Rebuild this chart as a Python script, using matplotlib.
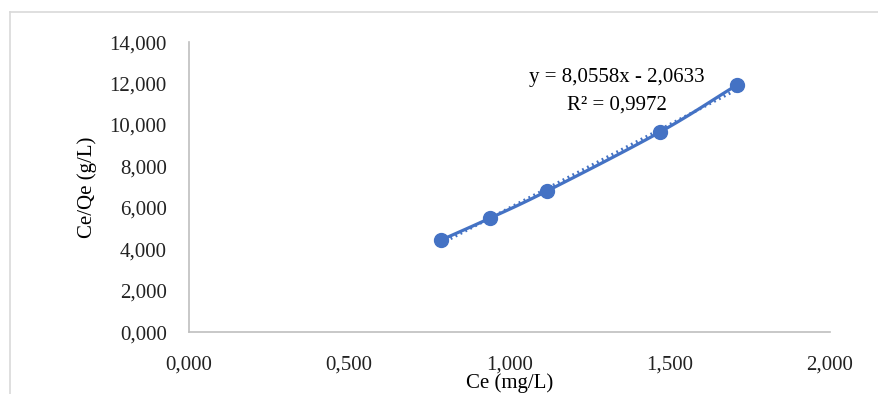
import numpy as np
import matplotlib
matplotlib.use("Agg")
import matplotlib.pyplot as plt
from matplotlib.lines import Line2D
from matplotlib.ticker import FuncFormatter

# data
ce = [0.786, 0.939, 1.117, 1.470, 1.710]        # Ce (mg/L)
ce_qe = [4.44, 5.50, 6.81, 9.66, 11.93]          # Ce/Qe (g/L)
slope, intercept = 8.0558, -2.0633
r2 = 0.9972
x_ticks = [0, 0.5, 1.0, 1.5, 2.0]
y_ticks = [0, 2, 4, 6, 8, 10, 12, 14]

blue = "#4472C4"
grey = "#BFBFBF"
plt.rcParams["font.family"] = ["Liberation Serif", "DejaVu Serif"]
fs = 15


def smooth(xs, ys, n=30):
    # Catmull-Rom through the points, like Excel's smoothed line
    xs, ys = np.asarray(xs), np.asarray(ys)
    px = np.concatenate([[2 * xs[0] - xs[1]], xs, [2 * xs[-1] - xs[-2]]])
    py = np.concatenate([[2 * ys[0] - ys[1]], ys, [2 * ys[-1] - ys[-2]]])
    ox, oy = [], []
    t = np.linspace(0, 1, n)
    for i in range(1, len(px) - 2):
        for p, o in ((px, ox), (py, oy)):
            p0, p1, p2, p3 = p[i - 1], p[i], p[i + 1], p[i + 2]
            o.extend(0.5 * (2 * p1 + (-p0 + p2) * t + (2 * p0 - 5 * p1 + 4 * p2 - p3) * t ** 2
                            + (-p0 + 3 * p1 - 3 * p2 + p3) * t ** 3))
    return ox, oy


def comma(v, pos=None, nd=3):
    return f"{v:.{nd}f}".replace(".", ",")


fig = plt.figure(figsize=(8.79, 3.94), dpi=100)
ax = fig.add_axes([0.215, 0.157, 0.729, 0.736])

sx, sy = smooth(ce, ce_qe)
ax.plot(sx, sy, color=blue, lw=2.3, zorder=3, solid_capstyle="round")
ax.plot(ce, ce_qe, "o", color=blue, ms=10, zorder=4)
tx = np.array([ce[0], ce[-1]])
ax.plot(tx, slope * tx + intercept, color=blue, lw=2.2, ls=(0, (0.6, 1.2)), zorder=2)

ax.text(1.335, 12.3, f"y = {comma(slope, nd=4)}x - {comma(-intercept, nd=4)}",
        ha="center", va="center", fontsize=fs)
ax.text(1.335, 10.96, "R² = " + comma(r2, nd=4), ha="center", va="center", fontsize=fs)

ax.set_xlim(0, 2)
ax.set_ylim(0, 14)
ax.set_xticks(x_ticks)
ax.set_yticks(y_ticks)
ax.xaxis.set_major_formatter(FuncFormatter(comma))
ax.yaxis.set_major_formatter(FuncFormatter(comma))
ax.tick_params(axis="both", length=0, labelsize=fs, colors="#222222")
ax.tick_params(axis="x", pad=17)
ax.tick_params(axis="y", pad=16)
for s in ("top", "right"):
    ax.spines[s].set_visible(False)
for s in ("left", "bottom"):
    ax.spines[s].set_color(grey)
    ax.spines[s].set_linewidth(1.2)

ax.set_xlabel("Ce (mg/L)", fontsize=fs)
ax.set_ylabel("Ce/Qe (g/L)", fontsize=fs)
ax.xaxis.label.set_va("center")
ax.xaxis.set_label_coords(0.5, -0.175)
ax.yaxis.set_label_coords(-0.1435, 0.5)

# frame of the chart area (cropped on the right and bottom)
fig.add_artist(Line2D([10 / 879, 1], [1 - 12 / 394] * 2, color="#D9D9D9", lw=1.2))
fig.add_artist(Line2D([10 / 879] * 2, [0, 1 - 12 / 394], color="#D9D9D9", lw=1.2))

fig.savefig("out.png", dpi=100)
